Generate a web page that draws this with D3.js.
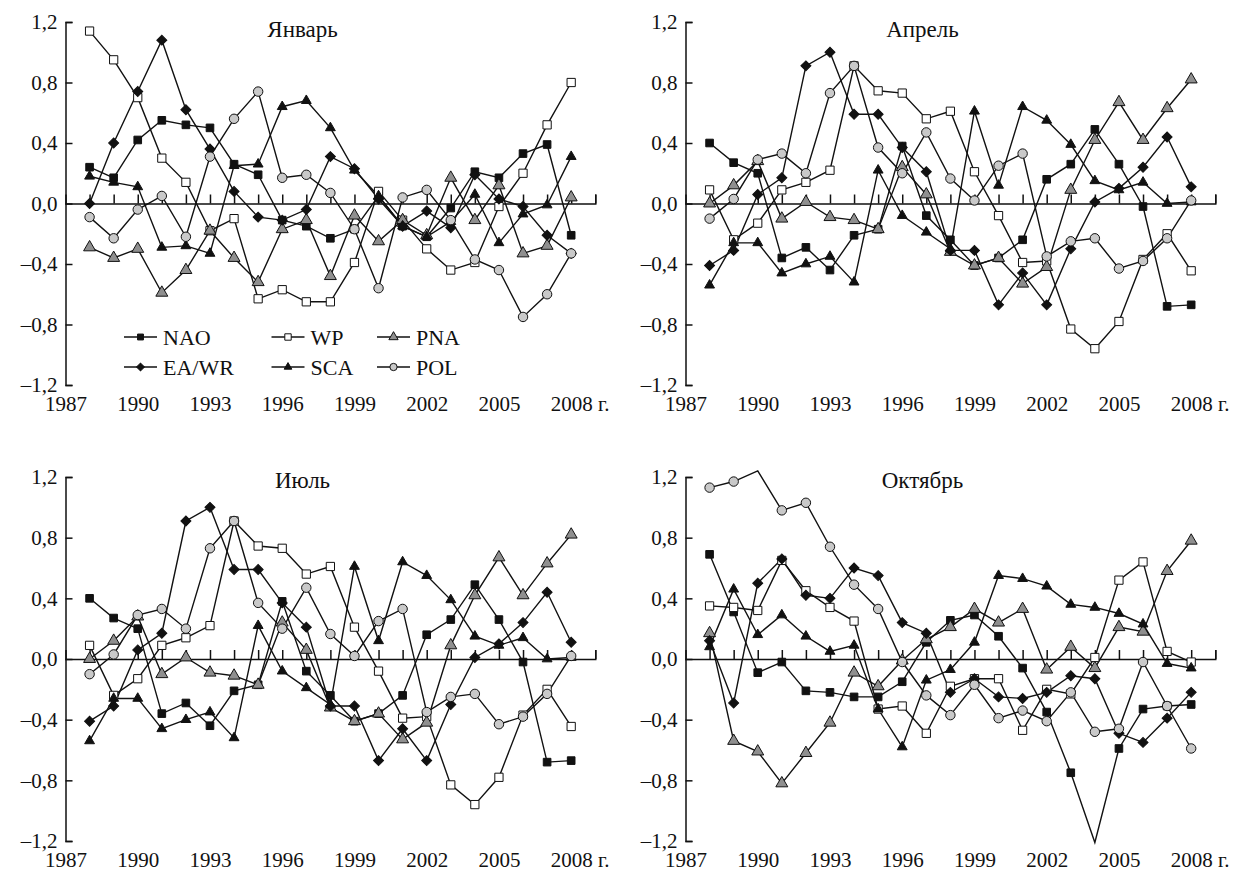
<!DOCTYPE html>
<html>
<head>
<meta charset="utf-8">
<script src="https://cdn.jsdelivr.net/npm/d3@7/dist/d3.min.js"></script>
<style>
  body { margin: 0; background: #fff; }
  svg { display: block; }
  text { font-family: "Liberation Serif", "Times New Roman", serif; fill: #111; }
</style>
</head>
<body>
<svg width="1241" height="874"></svg>
<script>
var svg = d3.select("svg");

// years on the x axis
var years = [1988, 1989, 1990, 1991, 1992, 1993, 1994, 1995, 1996, 1997, 1998,
             1999, 2000, 2001, 2002, 2003, 2004, 2005, 2006, 2007, 2008];
var yearLabels = [1987, 1990, 1993, 1996, 1999, 2002, 2005, 2008];
var valueTicks = [-1.2, -0.8, -0.4, 0, 0.4, 0.8, 1.2];
var seriesNames = ["NAO", "WP", "PNA", "EA/WR", "SCA", "POL"];

// январь
var janNAO = [0.24, 0.17, 0.42, 0.55, 0.52, 0.50, 0.26, 0.19, -0.11, -0.15, -0.23, -0.17, 0.05, -0.15, -0.22, -0.03, 0.21, 0.17, 0.33, 0.39, -0.21];
var janWP  = [1.14, 0.95, 0.70, 0.30, 0.14, -0.18, -0.10, -0.63, -0.57, -0.65, -0.65, -0.39, 0.08, -0.11, -0.30, -0.44, -0.39, -0.02, 0.20, 0.52, 0.80];
var janPNA = [-0.29, -0.36, -0.30, -0.59, -0.44, -0.18, -0.36, -0.52, -0.17, -0.11, -0.48, -0.08, -0.25, -0.11, -0.21, 0.17, -0.11, 0.12, -0.33, -0.28, 0.04];
var janEA  = [0.00, 0.40, 0.74, 1.08, 0.62, 0.36, 0.08, -0.09, -0.11, -0.04, 0.31, 0.23, 0.03, -0.15, -0.05, -0.16, 0.19, 0.03, -0.02, -0.21, -0.33];
var janSCA = [0.18, 0.14, 0.11, -0.29, -0.28, -0.33, 0.25, 0.26, 0.64, 0.68, 0.50, 0.22, 0.05, -0.15, -0.22, -0.12, 0.06, -0.26, -0.07, -0.01, 0.31];
var janPOL = [-0.09, -0.23, -0.04, 0.05, -0.22, 0.31, 0.56, 0.74, 0.17, 0.19, 0.07, -0.17, -0.56, 0.04, 0.09, -0.11, -0.37, -0.44, -0.75, -0.60, -0.33];

// апрель
var aprNAO = [0.40, 0.27, 0.20, -0.36, -0.29, -0.44, -0.21, -0.17, 0.38, -0.08, -0.24, -0.41, -0.36, -0.24, 0.16, 0.26, 0.49, 0.26, -0.02, -0.68, -0.67];
var aprWP  = [0.09, -0.24, -0.13, 0.09, 0.14, 0.22, 0.91, 0.745, 0.73, 0.56, 0.61, 0.21, -0.08, -0.39, -0.38, -0.83, -0.96, -0.78, -0.37, -0.20, -0.445];
var aprPNA = [0.00, 0.12, 0.28, -0.10, 0.01, -0.09, -0.11, -0.17, 0.24, 0.06, -0.32, -0.41, -0.36, -0.53, -0.42, 0.09, 0.42, 0.67, 0.42, 0.63, 0.82];
var aprEA  = [-0.41, -0.31, 0.06, 0.17, 0.91, 1.00, 0.59, 0.59, 0.37, 0.21, -0.31, -0.31, -0.67, -0.46, -0.67, -0.30, 0.01, 0.10, 0.24, 0.44, 0.11];
var aprSCA = [-0.54, -0.26, -0.26, -0.46, -0.40, -0.35, -0.52, 0.22, -0.08, -0.19, -0.30, 0.61, 0.12, 0.64, 0.55, 0.39, 0.15, 0.09, 0.14, 0.00, 0.01];
var aprPOL = [-0.10, 0.03, 0.29, 0.33, 0.20, 0.73, 0.91, 0.37, 0.20, 0.47, 0.165, 0.02, 0.25, 0.33, -0.35, -0.25, -0.23, -0.43, -0.38, -0.23, 0.02];

// июль (в оригинале совпадает с апрелем)
var julNAO = aprNAO, julWP = aprWP, julPNA = aprPNA, julEA = aprEA, julSCA = aprSCA, julPOL = aprPOL;

// октябрь
var octNAO = [0.69, 0.31, -0.09, -0.02, -0.21, -0.22, -0.25, -0.25, -0.15, 0.11, 0.255, 0.29, 0.15, -0.06, -0.35, -0.75, -1.21, -0.59, -0.33, -0.31, -0.30];
var octWP  = [0.35, 0.34, 0.32, 0.65, 0.45, 0.34, 0.25, -0.33, -0.31, -0.49, -0.18, -0.13, -0.13, -0.47, -0.20, -0.23, 0.01, 0.52, 0.64, 0.05, -0.02];
var octPNA = [0.17, -0.54, -0.61, -0.82, -0.62, -0.42, -0.09, -0.18, -0.01, 0.13, 0.21, 0.33, 0.24, 0.33, -0.07, 0.08, -0.06, 0.21, 0.18, 0.58, 0.78];
var octEA  = [0.12, -0.29, 0.50, 0.66, 0.42, 0.40, 0.60, 0.55, 0.24, 0.17, -0.22, -0.13, -0.25, -0.26, -0.22, -0.11, -0.13, -0.49, -0.55, -0.39, -0.22];
var octSCA = [0.08, 0.46, 0.16, 0.29, 0.15, 0.05, 0.09, -0.33, -0.58, -0.14, -0.07, 0.11, 0.55, 0.53, 0.48, 0.36, 0.34, 0.30, 0.23, -0.03, -0.06];
var octPOL = [1.13, 1.17, 1.24, 0.98, 1.03, 0.74, 0.49, 0.33, -0.02, -0.24, -0.37, -0.17, -0.39, -0.34, -0.41, -0.22, -0.48, -0.46, -0.02, -0.31, -0.59];

var panels = [
  {title: "Январь",  left: 65.5,  top: 22,  bottom: 385, titleY: 37,  legend: true,
   series: [janNAO, janWP, janPNA, janEA, janSCA, janPOL]},
  {title: "Апрель",  left: 685.5, top: 22,  bottom: 385, titleY: 37,
   series: [aprNAO, aprWP, aprPNA, aprEA, aprSCA, aprPOL]},
  {title: "Июль",    left: 65.5,  top: 477, bottom: 841, titleY: 488,
   series: [julNAO, julWP, julPNA, julEA, julSCA, julPOL]},
  {title: "Октябрь", left: 685.5, top: 477, bottom: 841, titleY: 488,
   series: [octNAO, octWP, octPNA, octEA, octSCA, octPOL]}
];

var markers = {
  "NAO":   {type: d3.symbolSquare,   size: 58, fill: "#111",    rot: 0},
  "WP":    {type: d3.symbolSquare,   size: 68, fill: "#fff",    rot: 0},
  "PNA":   {type: d3.symbolTriangle, size: 62, fill: "#8f8f8f", rot: 0},
  "EA/WR": {type: d3.symbolSquare,   size: 50, fill: "#111",    rot: 45},
  "SCA":   {type: d3.symbolTriangle, size: 42, fill: "#111",    rot: 0},
  "POL":   {type: d3.symbolCircle,   size: 70, fill: "#c9c9c9", rot: 0}
};

var yearStep = 24.08;

function fmtValue(d) {
  var s = Math.abs(d).toFixed(1).replace(".", ",");
  return d < 0 ? "\u2013" + s : s;
}

function drawMarker(sel, name, scale) {
  var m = markers[name];
  sel.append("path")
    .attr("d", d3.symbol().type(m.type).size(m.size * (scale || 1)))
    .attr("transform", m.rot ? "rotate(" + m.rot + ")" : null)
    .attr("fill", m.fill)
    .attr("stroke", "#111")
    .attr("stroke-width", 1);
}

panels.forEach(function(p) {
  var x = d3.scaleLinear().domain([1987, 2009]).range([p.left, p.left + 22 * yearStep]);
  var y = d3.scaleLinear().domain([-1.2, 1.2]).range([p.bottom, p.top]);
  var g = svg.append("g").style("color", "#111");

  // vertical axis with inward ticks
  g.append("g")
    .attr("transform", "translate(" + x(1987) + ",0)")
    .call(d3.axisRight(y).tickValues(valueTicks).tickSize(7).tickSizeOuter(7).tickFormat(""))
    .call(function(a) { a.selectAll("path,line").attr("stroke-width", 1.5); });

  var yl = g.append("g")
    .attr("transform", "translate(" + x(1987) + ",0)")
    .call(d3.axisLeft(y).tickValues(valueTicks).tickSize(0).tickPadding(8).tickFormat(fmtValue));
  yl.select(".domain").remove();
  yl.attr("font-size", null).attr("font-family", null);
  yl.selectAll("text").style("font-size", "21px");

  // zero line with year ticks
  g.append("g")
    .attr("transform", "translate(0," + y(0) + ")")
    .call(d3.axisTop(x).tickValues(d3.range(1988, 2010)).tickSize(9).tickSizeOuter(9).tickFormat(""))
    .call(function(a) { a.selectAll("path,line").attr("stroke-width", 1.5); });

  // year labels under the panel
  var xl = g.append("g")
    .attr("transform", "translate(0," + y(-1.2) + ")")
    .call(d3.axisBottom(x).tickValues(yearLabels).tickSize(0).tickPadding(7).tickFormat(d3.format("d")));
  xl.select(".domain").remove();
  xl.attr("font-size", null).attr("font-family", null);
  xl.selectAll("text").style("font-size", "21px").attr("dy", "0.9em");
  xl.selectAll(".tick").filter(function(d) { return d === 2008; }).select("text")
    .each(function() {
      var w = this.getComputedTextLength();
      d3.select(this).attr("text-anchor", "start").attr("x", -w / 2).text("2008 г.");
    });

  // title
  g.append("text")
    .attr("x", p.left + 237)
    .attr("y", p.titleY)
    .attr("text-anchor", "middle")
    .style("font-size", "23px")
    .text(p.title);

  var line = d3.line()
    .x(function(d, i) { return x(years[i]); })
    .y(function(d) { return y(d); });

  p.series.forEach(function(vals) {
    g.append("path")
      .attr("d", line(vals))
      .attr("fill", "none")
      .attr("stroke", "#111")
      .attr("stroke-width", 1.4);
  });

  p.series.forEach(function(vals, k) {
    var name = seriesNames[k];
    var pts = vals.map(function(v, i) { return {year: years[i], v: v}; })
      .filter(function(d) { return d.v >= -1.2 && d.v <= 1.2; });
    g.append("g").selectAll("g")
      .data(pts)
      .join("g")
      .attr("transform", function(d) { return "translate(" + x(d.year) + "," + y(d.v) + ")"; })
      .call(drawMarker, name);
  });

  if (p.legend) {
    var cols = [58.5, 206, 311.5];
    var rows = [337, 367];
    seriesNames.forEach(function(name, k) {
      var lx = p.left + cols[k % 3];
      var ly = rows[Math.floor(k / 3)];
      var lg = g.append("g").attr("transform", "translate(" + lx + "," + ly + ")");
      lg.append("line").attr("x1", 0).attr("x2", 33).attr("stroke", "#111").attr("stroke-width", 1.4);
      lg.append("g").attr("transform", "translate(16.5,0)").call(drawMarker, name, 0.6);
      lg.append("text").attr("x", 39).attr("dy", "0.35em").style("font-size", "22px").text(name);
    });
  }
});
</script>
</body>
</html>
